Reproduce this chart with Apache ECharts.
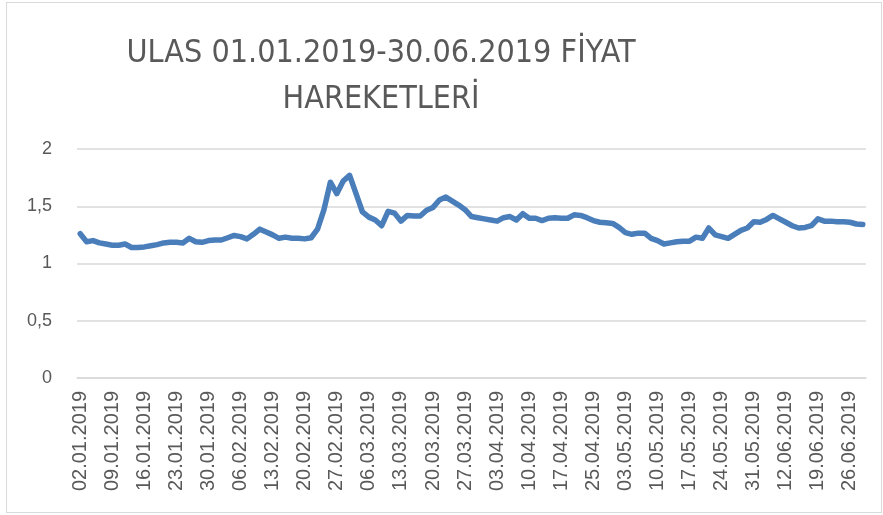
<!DOCTYPE html>
<html>
<head>
<meta charset="utf-8">
<script src="https://cdn.jsdelivr.net/npm/echarts@6/dist/echarts.min.js"></script>
<style>
    body { margin: 0; background: #fff; }
    #frame { position: absolute; left: 6px; top: 2px; width: 876px; height: 511px; border: 1px solid #d9d9d9; box-sizing: border-box; }
    #canvas { position: absolute; left: 0; top: 0; width: 883px; height: 515px; }
</style>
</head>
<body>
<div id="frame"></div>
<div id="canvas"></div>
<script>
// islem gunleri (02.01.2019 - 28.06.2019)
const dates = [
    '02.01.2019', '03.01.2019', '04.01.2019', '07.01.2019', '08.01.2019', '09.01.2019', '10.01.2019', '11.01.2019',
    '14.01.2019', '15.01.2019', '16.01.2019', '17.01.2019', '18.01.2019', '21.01.2019', '22.01.2019', '23.01.2019',
    '24.01.2019', '25.01.2019', '28.01.2019', '29.01.2019', '30.01.2019', '31.01.2019',
    '01.02.2019', '04.02.2019', '05.02.2019', '06.02.2019', '07.02.2019', '08.02.2019', '11.02.2019', '12.02.2019',
    '13.02.2019', '14.02.2019', '15.02.2019', '18.02.2019', '19.02.2019', '20.02.2019', '21.02.2019', '22.02.2019',
    '25.02.2019', '26.02.2019', '27.02.2019', '28.02.2019',
    '01.03.2019', '04.03.2019', '05.03.2019', '06.03.2019', '07.03.2019', '08.03.2019', '11.03.2019', '12.03.2019',
    '13.03.2019', '14.03.2019', '15.03.2019', '18.03.2019', '19.03.2019', '20.03.2019', '21.03.2019', '22.03.2019',
    '25.03.2019', '26.03.2019', '27.03.2019', '28.03.2019', '29.03.2019',
    '01.04.2019', '02.04.2019', '03.04.2019', '04.04.2019', '05.04.2019', '08.04.2019', '09.04.2019', '10.04.2019',
    '11.04.2019', '12.04.2019', '15.04.2019', '16.04.2019', '17.04.2019', '18.04.2019', '19.04.2019', '22.04.2019',
    '24.04.2019', '25.04.2019', '26.04.2019', '29.04.2019', '30.04.2019',
    '02.05.2019', '03.05.2019', '06.05.2019', '07.05.2019', '08.05.2019', '09.05.2019', '10.05.2019', '13.05.2019',
    '14.05.2019', '15.05.2019', '16.05.2019', '17.05.2019', '20.05.2019', '21.05.2019', '22.05.2019', '23.05.2019',
    '24.05.2019', '27.05.2019', '28.05.2019', '29.05.2019', '30.05.2019', '31.05.2019',
    '03.06.2019', '07.06.2019', '10.06.2019', '11.06.2019', '12.06.2019', '13.06.2019', '14.06.2019', '17.06.2019',
    '18.06.2019', '19.06.2019', '20.06.2019', '21.06.2019', '24.06.2019', '25.06.2019', '26.06.2019', '27.06.2019',
    '28.06.2019'
];

// kapanis fiyatlari
const prices = [
    1.26, 1.19, 1.20, 1.18, 1.17, 1.16, 1.16, 1.17, 1.14, 1.14,
    1.145, 1.155, 1.165, 1.18, 1.185, 1.185, 1.18, 1.22, 1.19, 1.185,
    1.20, 1.205, 1.205, 1.225, 1.245, 1.235, 1.215, 1.255, 1.30, 1.275,
    1.25, 1.22, 1.23, 1.22, 1.22, 1.215, 1.225, 1.30, 1.47, 1.71,
    1.61, 1.72, 1.77, 1.61, 1.45, 1.405, 1.38, 1.33, 1.455, 1.44,
    1.37, 1.42, 1.415, 1.415, 1.465, 1.49, 1.555, 1.58, 1.545, 1.51,
    1.47, 1.41, 1.40, 1.39, 1.38, 1.37, 1.40, 1.41, 1.38, 1.435,
    1.395, 1.395, 1.375, 1.395, 1.40, 1.395, 1.395, 1.425, 1.42, 1.40,
    1.375, 1.36, 1.355, 1.35, 1.315, 1.27, 1.255, 1.265, 1.265, 1.22,
    1.20, 1.17, 1.18, 1.19, 1.195, 1.195, 1.23, 1.22, 1.31, 1.25,
    1.235, 1.22, 1.255, 1.29, 1.31, 1.365, 1.36, 1.385, 1.42, 1.39,
    1.36, 1.33, 1.31, 1.315, 1.33, 1.39, 1.37, 1.37, 1.365, 1.365,
    1.36, 1.345, 1.34
];

const yTicks = [0, 0.5, 1, 1.5, 2];

const chart = echarts.init(document.getElementById('canvas'));
const textColor = '#595959';

chart.setOption({
    animation: false,
    title: {
        text: 'ULAS 01.01.2019-30.06.2019 FİYAT\nHAREKETLERİ',
        left: 376,
        top: 26,
        textAlign: 'center',
        textStyle: {
            fontFamily: 'DejaVu Sans Condensed',
            fontWeight: 'normal',
            fontSize: 32,
            lineHeight: 46,
            color: textColor
        }
    },
    grid: {
        left: 77,
        right: 17,
        top: 149,
        bottom: 137
    },
    xAxis: {
        type: 'category',
        data: dates,
        boundaryGap: true,
        axisLine: {lineStyle: {color: '#d9d9d9', width: 1.5}},
        axisTick: {show: false},
        axisLabel: {
            interval: 4,
            rotate: 90,
            margin: 13,
            fontFamily: 'Liberation Sans',
            fontSize: 20,
            color: textColor
        }
    },
    yAxis: {
        type: 'value',
        min: yTicks[0],
        max: yTicks[yTicks.length - 1],
        interval: 0.5,
        axisLine: {show: false},
        axisTick: {show: false},
        splitLine: {lineStyle: {color: '#d9d9d9', width: 1.5}},
        axisLabel: {
            margin: 25,
            fontFamily: 'Liberation Sans',
            fontSize: 18,
            color: textColor,
            formatter: (v) => String(v).replace('.', ',')
        }
    },
    series: [{
        type: 'line',
        data: prices,
        showSymbol: false,
        lineStyle: {color: '#4a7ebb', width: 5.5, join: 'round', cap: 'round'}
    }]
});
</script>
</body>
</html>
